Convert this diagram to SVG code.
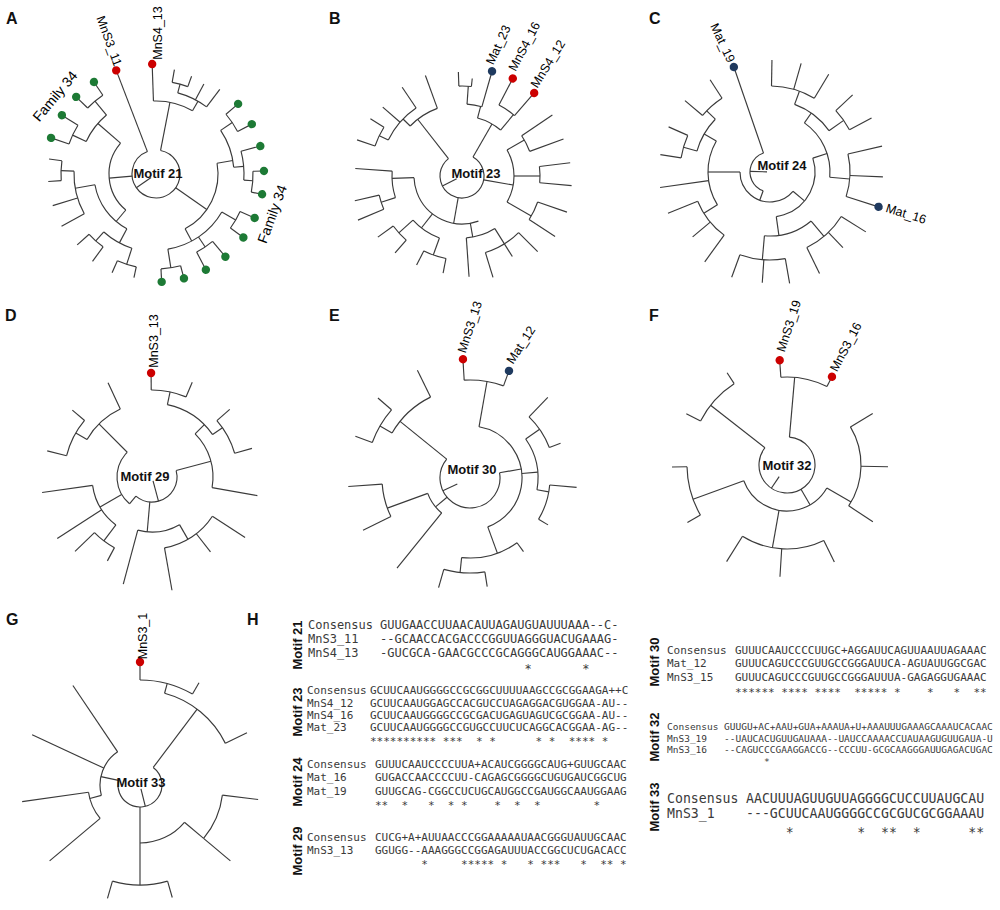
<svg xmlns="http://www.w3.org/2000/svg" width="1000" height="910" viewBox="0 0 1000 910">
<style>
.tr line{stroke:#3a3a3a;stroke-width:1.15}
.a{fill:none;stroke:#3a3a3a;stroke-width:1.15}
.dr{fill:#cc0000}.dg{fill:#1d7a35}.dn{fill:#1f3a5f}
.lbl{font-family:"Liberation Sans",Arial,sans-serif;font-size:12.5px;fill:#000}
.fam{font-family:"Liberation Sans",Arial,sans-serif;font-size:14px;fill:#000}
.mot{font-family:"Liberation Sans",Arial,sans-serif;font-size:13px;font-weight:bold;fill:#111}
.pl{font-family:"Liberation Sans",Arial,sans-serif;font-size:16px;font-weight:bold;fill:#111}
.sq{font-family:"DejaVu Sans Mono",monospace;fill:#3a3a3a;white-space:pre}
.s12{font-size:12px}.s11{font-size:11px}.s95{font-size:9.5px}.s13{font-size:13.2px}
</style>
<rect width="1000" height="910" fill="#fff"/>

<!-- Panel letters -->
<g id="panel-letters">
<text class="pl" x="6" y="24">A</text>
<text class="pl" x="329" y="24">B</text>
<text class="pl" x="649" y="24">C</text>
<text class="pl" x="5" y="321">D</text>
<text class="pl" x="329" y="321">E</text>
<text class="pl" x="649" y="321">F</text>
<text class="pl" x="6" y="625">G</text>
<text class="pl" x="247" y="625">H</text>
</g>

<!-- Panel A -->
<g id="tree-a" class="tr" transform="translate(156,174)">
<line x1="6" x2="24" transform="rotate(145)"/>
<circle class="a" r="24" pathLength="360" stroke-dasharray="328 720" transform="rotate(281)"/>
<line x1="24" x2="111" transform="rotate(249)"/>
<line x1="24" x2="73" transform="rotate(281)"/>
<circle class="a" r="73" pathLength="360" stroke-dasharray="32 720" transform="rotate(268)"/>
<line x1="73" x2="110" transform="rotate(268)"/>
<line x1="73" x2="84" transform="rotate(300)"/>
<circle class="a" r="84" pathLength="360" stroke-dasharray="22 720" transform="rotate(285)"/>
<line x1="84" x2="93" transform="rotate(285)"/>
<circle class="a" r="93" pathLength="360" stroke-dasharray="10 720" transform="rotate(280)"/>
<line x1="93" x2="106" transform="rotate(280)"/>
<line x1="93" x2="104" transform="rotate(290)"/>
<line x1="84" x2="102" transform="rotate(298)"/>
<line x1="84" x2="106" transform="rotate(307)"/>
<line x1="24" x2="47" transform="rotate(175)"/>
<circle class="a" r="47" pathLength="360" stroke-dasharray="91 720" transform="rotate(130)"/>
<line x1="47" x2="77" transform="rotate(221)"/>
<circle class="a" r="77" pathLength="360" stroke-dasharray="25 720" transform="rotate(205)"/>
<line x1="77" x2="92" transform="rotate(205)"/>
<circle class="a" r="92" pathLength="360" stroke-dasharray="13 720" transform="rotate(199)"/>
<line x1="92" x2="111" transform="rotate(199)"/>
<line x1="92" x2="111" transform="rotate(212)"/>
<line x1="77" x2="95" transform="rotate(230)"/>
<circle class="a" r="95" pathLength="360" stroke-dasharray="12 720" transform="rotate(224)"/>
<line x1="95" x2="111" transform="rotate(224)"/>
<line x1="95" x2="111" transform="rotate(236)"/>
<line x1="47" x2="62" transform="rotate(130)"/>
<circle class="a" r="62" pathLength="360" stroke-dasharray="52 720" transform="rotate(118)"/>
<line x1="62" x2="82" transform="rotate(170)"/>
<circle class="a" r="82" pathLength="360" stroke-dasharray="31 720" transform="rotate(151)"/>
<line x1="82" x2="108" transform="rotate(151)"/>
<line x1="82" x2="108" transform="rotate(163)"/>
<line x1="82" x2="95" transform="rotate(182)"/>
<circle class="a" r="95" pathLength="360" stroke-dasharray="12 720" transform="rotate(176)"/>
<line x1="95" x2="108" transform="rotate(176)"/>
<line x1="95" x2="108" transform="rotate(188)"/>
<line x1="62" x2="78" transform="rotate(118)"/>
<circle class="a" r="78" pathLength="360" stroke-dasharray="24 720" transform="rotate(108)"/>
<line x1="78" x2="90" transform="rotate(132)"/>
<circle class="a" r="90" pathLength="360" stroke-dasharray="12 720" transform="rotate(126)"/>
<line x1="90" x2="108" transform="rotate(126)"/>
<line x1="90" x2="106" transform="rotate(138)"/>
<line x1="78" x2="95" transform="rotate(108)"/>
<circle class="a" r="95" pathLength="360" stroke-dasharray="12 720" transform="rotate(102)"/>
<line x1="95" x2="106" transform="rotate(102)"/>
<line x1="95" x2="108" transform="rotate(114)"/>
<line x1="24" x2="62" transform="rotate(35)"/>
<circle class="a" r="62" pathLength="360" stroke-dasharray="72 720" transform="rotate(-10)"/>
<line x1="62" x2="78" transform="rotate(-10)"/>
<circle class="a" r="78" pathLength="360" stroke-dasharray="29 720" transform="rotate(-34)"/>
<line x1="78" x2="92" transform="rotate(-34)"/>
<circle class="a" r="92" pathLength="360" stroke-dasharray="13 720" transform="rotate(-40.5)"/>
<line x1="92" x2="108" transform="rotate(-40.5)"/>
<line x1="92" x2="108" transform="rotate(-27.5)"/>
<line x1="78" x2="88" transform="rotate(-5)"/>
<circle class="a" r="88" pathLength="360" stroke-dasharray="19 720" transform="rotate(-15)"/>
<line x1="88" x2="108" transform="rotate(-15)"/>
<line x1="88" x2="97" transform="rotate(4)"/>
<circle class="a" r="97" pathLength="360" stroke-dasharray="12.4 720" transform="rotate(-1.6)"/>
<line x1="97" x2="108" transform="rotate(-1.6)"/>
<line x1="97" x2="108" transform="rotate(10.8)"/>
<line x1="62" x2="76" transform="rotate(62)"/>
<circle class="a" r="76" pathLength="360" stroke-dasharray="51 720" transform="rotate(30)"/>
<line x1="76" x2="92" transform="rotate(30)"/>
<circle class="a" r="92" pathLength="360" stroke-dasharray="12 720" transform="rotate(24)"/>
<line x1="92" x2="108" transform="rotate(24)"/>
<line x1="92" x2="108" transform="rotate(36)"/>
<line x1="76" x2="88" transform="rotate(56)"/>
<circle class="a" r="88" pathLength="360" stroke-dasharray="12.5 720" transform="rotate(50)"/>
<line x1="88" x2="108" transform="rotate(50)"/>
<line x1="88" x2="108" transform="rotate(62.5)"/>
<line x1="76" x2="95" transform="rotate(81)"/>
<circle class="a" r="95" pathLength="360" stroke-dasharray="12 720" transform="rotate(75)"/>
<line x1="95" x2="108" transform="rotate(75)"/>
<line x1="95" x2="108" transform="rotate(87)"/>
<circle class="dr" r="4.2" transform="rotate(249) translate(111)"/>
<circle class="dr" r="4.2" transform="rotate(268) translate(110)"/>
<circle class="dg" r="4.2" transform="rotate(199) translate(111)"/>
<circle class="dg" r="4.2" transform="rotate(212) translate(111)"/>
<circle class="dg" r="4.2" transform="rotate(224) translate(111)"/>
<circle class="dg" r="4.2" transform="rotate(236) translate(111)"/>
<circle class="dg" r="4.2" transform="rotate(-40.5) translate(108)"/>
<circle class="dg" r="4.2" transform="rotate(-27.5) translate(108)"/>
<circle class="dg" r="4.2" transform="rotate(-15) translate(108)"/>
<circle class="dg" r="4.2" transform="rotate(-1.6) translate(108)"/>
<circle class="dg" r="4.2" transform="rotate(10.8) translate(108)"/>
<circle class="dg" r="4.2" transform="rotate(24) translate(108)"/>
<circle class="dg" r="4.2" transform="rotate(36) translate(108)"/>
<circle class="dg" r="4.2" transform="rotate(50) translate(108)"/>
<circle class="dg" r="4.2" transform="rotate(62.5) translate(108)"/>
<circle class="dg" r="4.2" transform="rotate(75) translate(108)"/>
<circle class="dg" r="4.2" transform="rotate(87) translate(108)"/>
</g>
<g id="labels-a">
<text class="mot" x="158" y="173" text-anchor="middle" dominant-baseline="central">Motif 21</text>
<text class="lbl" text-anchor="middle" dominant-baseline="central" transform="translate(109,41) rotate(70)">MnS3_11</text>
<text class="lbl" text-anchor="middle" dominant-baseline="central" transform="translate(157.5,33) rotate(-90)">MnS4_13</text>
<text class="fam" text-anchor="middle" dominant-baseline="central" transform="translate(55,96) rotate(-50)">Family 34</text>
<text class="fam" text-anchor="middle" dominant-baseline="central" transform="translate(272,214) rotate(-70)">Family 34</text>
</g>

<!-- Panel B -->
<g id="tree-b" class="tr" transform="translate(462,176)">
<line x1="6" x2="22" transform="rotate(153)"/>
<circle class="a" r="22" pathLength="360" stroke-dasharray="292 720" transform="rotate(300)"/>
<line x1="22" x2="72" transform="rotate(232)"/>
<circle class="a" r="72" pathLength="360" stroke-dasharray="26 720" transform="rotate(224)"/>
<line x1="72" x2="107" transform="rotate(250)"/>
<line x1="72" x2="82" transform="rotate(224)"/>
<circle class="a" r="82" pathLength="360" stroke-dasharray="30 720" transform="rotate(206)"/>
<line x1="82" x2="107" transform="rotate(236)"/>
<line x1="82" x2="105" transform="rotate(221)"/>
<line x1="82" x2="92" transform="rotate(206)"/>
<circle class="a" r="92" pathLength="360" stroke-dasharray="13 720" transform="rotate(199)"/>
<line x1="92" x2="111" transform="rotate(199)"/>
<line x1="92" x2="108" transform="rotate(212)"/>
<line x1="22" x2="48" transform="rotate(100)"/>
<circle class="a" r="48" pathLength="360" stroke-dasharray="108 720" transform="rotate(70)"/>
<line x1="48" x2="70" transform="rotate(178)"/>
<circle class="a" r="70" pathLength="360" stroke-dasharray="22 720" transform="rotate(162)"/>
<line x1="70" x2="107" transform="rotate(184)"/>
<line x1="70" x2="85" transform="rotate(162)"/>
<circle class="a" r="85" pathLength="360" stroke-dasharray="10 720" transform="rotate(157)"/>
<line x1="85" x2="113" transform="rotate(157)"/>
<line x1="85" x2="110" transform="rotate(167)"/>
<line x1="48" x2="66" transform="rotate(128)"/>
<circle class="a" r="66" pathLength="360" stroke-dasharray="28 720" transform="rotate(110)"/>
<line x1="66" x2="85" transform="rotate(138)"/>
<circle class="a" r="85" pathLength="360" stroke-dasharray="13 720" transform="rotate(131)"/>
<line x1="85" x2="102" transform="rotate(131)"/>
<line x1="85" x2="104" transform="rotate(144)"/>
<line x1="66" x2="84" transform="rotate(110)"/>
<circle class="a" r="84" pathLength="360" stroke-dasharray="16 720" transform="rotate(101)"/>
<line x1="84" x2="99" transform="rotate(101)"/>
<line x1="84" x2="100" transform="rotate(117)"/>
<line x1="48" x2="62" transform="rotate(80)"/>
<circle class="a" r="62" pathLength="360" stroke-dasharray="28 720" transform="rotate(58)"/>
<line x1="62" x2="101" transform="rotate(86)"/>
<line x1="62" x2="80" transform="rotate(58)"/>
<circle class="a" r="80" pathLength="360" stroke-dasharray="28 720" transform="rotate(45)"/>
<line x1="80" x2="106" transform="rotate(73)"/>
<line x1="80" x2="95" transform="rotate(58)"/>
<line x1="80" x2="107" transform="rotate(45)"/>
<line x1="22" x2="52" transform="rotate(10)"/>
<circle class="a" r="52" pathLength="360" stroke-dasharray="60 720" transform="rotate(-30)"/>
<line x1="52" x2="80" transform="rotate(30)"/>
<circle class="a" r="80" pathLength="360" stroke-dasharray="14 720" transform="rotate(19)"/>
<line x1="80" x2="111" transform="rotate(19)"/>
<line x1="80" x2="111" transform="rotate(33)"/>
<line x1="52" x2="78" transform="rotate(0)"/>
<circle class="a" r="78" pathLength="360" stroke-dasharray="12 720" transform="rotate(-7)"/>
<line x1="78" x2="109" transform="rotate(-7)"/>
<line x1="78" x2="110" transform="rotate(5)"/>
<line x1="52" x2="72" transform="rotate(-30)"/>
<circle class="a" r="72" pathLength="360" stroke-dasharray="14 720" transform="rotate(-34)"/>
<line x1="72" x2="109" transform="rotate(-34)"/>
<line x1="72" x2="108" transform="rotate(-20)"/>
<line x1="22" x2="60" transform="rotate(300)"/>
<circle class="a" r="60" pathLength="360" stroke-dasharray="25 720" transform="rotate(285)"/>
<line x1="60" x2="72" transform="rotate(285)"/>
<circle class="a" r="72" pathLength="360" stroke-dasharray="12 720" transform="rotate(274)"/>
<line x1="72" x2="109" transform="rotate(286)"/>
<line x1="72" x2="90" transform="rotate(274)"/>
<circle class="a" r="90" pathLength="360" stroke-dasharray="8 720" transform="rotate(268)"/>
<line x1="90" x2="104" transform="rotate(268)"/>
<line x1="90" x2="98" transform="rotate(276)"/>
<line x1="60" x2="80" transform="rotate(310)"/>
<circle class="a" r="80" pathLength="360" stroke-dasharray="13.5 720" transform="rotate(297.5)"/>
<line x1="80" x2="110" transform="rotate(297.5)"/>
<line x1="80" x2="110" transform="rotate(311)"/>
<circle class="dn" r="4.2" transform="rotate(286) translate(109)"/>
<circle class="dr" r="4.2" transform="rotate(297.5) translate(110)"/>
<circle class="dr" r="4.2" transform="rotate(311) translate(110)"/>
</g>
<g id="labels-b">
<text class="mot" x="476" y="173" text-anchor="middle" dominant-baseline="central">Motif 23</text>
<text class="lbl" text-anchor="middle" dominant-baseline="central" transform="translate(498.5,45) rotate(-65)">Mat_23</text>
<text class="lbl" text-anchor="middle" dominant-baseline="central" transform="translate(524.5,46.5) rotate(-62)">MnS4_16</text>
<text class="lbl" text-anchor="middle" dominant-baseline="central" transform="translate(548,64) rotate(-58)">MnS4_12</text>
</g>

<!-- Panel C -->
<g id="tree-c" class="tr" transform="translate(770,172)">
<line x1="3" x2="20" transform="rotate(182)"/>
<circle class="a" r="20" pathLength="360" stroke-dasharray="141 720" transform="rotate(110)"/>
<line x1="20" x2="111" transform="rotate(251)"/>
<line x1="20" x2="30" transform="rotate(110)"/>
<circle class="a" r="30" pathLength="360" stroke-dasharray="140 720" transform="rotate(40)"/>
<line x1="30" x2="62" transform="rotate(180)"/>
<circle class="a" r="62" pathLength="360" stroke-dasharray="62 720" transform="rotate(148)"/>
<line x1="62" x2="76" transform="rotate(210)"/>
<circle class="a" r="76" pathLength="360" stroke-dasharray="28 720" transform="rotate(196)"/>
<line x1="76" x2="88" transform="rotate(224)"/>
<circle class="a" r="88" pathLength="360" stroke-dasharray="17 720" transform="rotate(220)"/>
<line x1="88" x2="111" transform="rotate(220)"/>
<line x1="88" x2="110" transform="rotate(237)"/>
<line x1="76" x2="90" transform="rotate(196)"/>
<circle class="a" r="90" pathLength="360" stroke-dasharray="15 720" transform="rotate(189)"/>
<line x1="90" x2="111" transform="rotate(189)"/>
<line x1="90" x2="111" transform="rotate(204)"/>
<line x1="62" x2="111" transform="rotate(172)"/>
<line x1="62" x2="78" transform="rotate(148)"/>
<circle class="a" r="78" pathLength="360" stroke-dasharray="32 720" transform="rotate(126)"/>
<line x1="78" x2="110" transform="rotate(158)"/>
<line x1="78" x2="101" transform="rotate(140)"/>
<line x1="78" x2="111" transform="rotate(126)"/>
<line x1="30" x2="45" transform="rotate(40)"/>
<circle class="a" r="45" pathLength="360" stroke-dasharray="100 720" transform="rotate(-18)"/>
<line x1="45" x2="60" transform="rotate(-18)"/>
<circle class="a" r="60" pathLength="360" stroke-dasharray="60 720" transform="rotate(-55)"/>
<line x1="60" x2="72" transform="rotate(-55)"/>
<circle class="a" r="72" pathLength="360" stroke-dasharray="35 720" transform="rotate(-70)"/>
<line x1="72" x2="86" transform="rotate(-70)"/>
<circle class="a" r="86" pathLength="360" stroke-dasharray="30 720" transform="rotate(-89)"/>
<line x1="86" x2="112" transform="rotate(-89)"/>
<line x1="86" x2="113" transform="rotate(-74)"/>
<line x1="86" x2="114" transform="rotate(-59)"/>
<line x1="72" x2="90" transform="rotate(-35)"/>
<circle class="a" r="90" pathLength="360" stroke-dasharray="15 720" transform="rotate(-43)"/>
<line x1="90" x2="113" transform="rotate(-43)"/>
<line x1="90" x2="115" transform="rotate(-28)"/>
<line x1="60" x2="80" transform="rotate(5)"/>
<circle class="a" r="80" pathLength="360" stroke-dasharray="31 720" transform="rotate(-13)"/>
<line x1="80" x2="115" transform="rotate(-13)"/>
<line x1="80" x2="113" transform="rotate(2.5)"/>
<line x1="80" x2="114" transform="rotate(17.8)"/>
<line x1="45" x2="64" transform="rotate(82)"/>
<circle class="a" r="64" pathLength="360" stroke-dasharray="45 720" transform="rotate(50)"/>
<line x1="64" x2="84" transform="rotate(50)"/>
<circle class="a" r="84" pathLength="360" stroke-dasharray="32 720" transform="rotate(32)"/>
<line x1="84" x2="113" transform="rotate(32)"/>
<line x1="84" x2="105" transform="rotate(46)"/>
<line x1="84" x2="113" transform="rotate(64)"/>
<line x1="64" x2="88" transform="rotate(95)"/>
<circle class="a" r="88" pathLength="360" stroke-dasharray="30 720" transform="rotate(80)"/>
<line x1="88" x2="113" transform="rotate(80)"/>
<line x1="88" x2="111" transform="rotate(94)"/>
<line x1="88" x2="112" transform="rotate(110)"/>
<circle class="dn" r="4.2" transform="rotate(251) translate(111)"/>
<circle class="dn" r="4.2" transform="rotate(17.8) translate(114)"/>
</g>
<g id="labels-c">
<text class="mot" x="782" y="165" text-anchor="middle" dominant-baseline="central">Motif 24</text>
<text class="lbl" text-anchor="middle" dominant-baseline="central" transform="translate(722.5,43) rotate(65)">Mat_19</text>
<text class="lbl" text-anchor="middle" dominant-baseline="central" transform="translate(906,214) rotate(17)">Mat_16</text>
</g>

<!-- Panel D -->
<g id="tree-d" class="tr" transform="translate(152,477)">
<line x1="4" x2="25" transform="rotate(75)"/>
<circle class="a" r="25" pathLength="360" stroke-dasharray="145 720" transform="rotate(-15)"/>
<line x1="25" x2="61" transform="rotate(-15)"/>
<circle class="a" r="61" pathLength="360" stroke-dasharray="55 720" transform="rotate(-45)"/>
<line x1="61" x2="74" transform="rotate(-45)"/>
<circle class="a" r="74" pathLength="360" stroke-dasharray="43 720" transform="rotate(-78)"/>
<line x1="74" x2="87" transform="rotate(-78)"/>
<circle class="a" r="87" pathLength="360" stroke-dasharray="23.5 720" transform="rotate(-90.5)"/>
<line x1="87" x2="104" transform="rotate(-90.5)"/>
<line x1="87" x2="103" transform="rotate(-67)"/>
<line x1="74" x2="86" transform="rotate(-35)"/>
<circle class="a" r="86" pathLength="360" stroke-dasharray="25 720" transform="rotate(-41)"/>
<line x1="86" x2="103" transform="rotate(-41)"/>
<line x1="86" x2="104" transform="rotate(-16)"/>
<line x1="61" x2="107" transform="rotate(10)"/>
<line x1="25" x2="35" transform="rotate(130)"/>
<circle class="a" r="35" pathLength="360" stroke-dasharray="95 720" transform="rotate(130)"/>
<line x1="35" x2="75" transform="rotate(225)"/>
<circle class="a" r="75" pathLength="360" stroke-dasharray="35 720" transform="rotate(210)"/>
<line x1="75" x2="104" transform="rotate(245)"/>
<line x1="75" x2="88" transform="rotate(210)"/>
<circle class="a" r="88" pathLength="360" stroke-dasharray="26 720" transform="rotate(194)"/>
<line x1="88" x2="108" transform="rotate(194)"/>
<line x1="88" x2="104" transform="rotate(220)"/>
<line x1="35" x2="60" transform="rotate(150)"/>
<circle class="a" r="60" pathLength="360" stroke-dasharray="45 720" transform="rotate(127)"/>
<line x1="60" x2="111" transform="rotate(172)"/>
<line x1="60" x2="113" transform="rotate(147)"/>
<line x1="60" x2="80" transform="rotate(127)"/>
<circle class="a" r="80" pathLength="360" stroke-dasharray="18 720" transform="rotate(118)"/>
<line x1="80" x2="95" transform="rotate(118)"/>
<line x1="80" x2="107" transform="rotate(136)"/>
<line x1="25" x2="55" transform="rotate(95)"/>
<circle class="a" r="55" pathLength="360" stroke-dasharray="45 720" transform="rotate(60)"/>
<line x1="55" x2="111" transform="rotate(105)"/>
<line x1="55" x2="72" transform="rotate(60)"/>
<circle class="a" r="72" pathLength="360" stroke-dasharray="47 720" transform="rotate(33)"/>
<line x1="72" x2="115" transform="rotate(80)"/>
<line x1="72" x2="95" transform="rotate(52)"/>
<line x1="72" x2="111" transform="rotate(33)"/>
<circle class="dr" r="4.2" transform="rotate(-90.5) translate(104)"/>
</g>
<g id="labels-d">
<text class="mot" x="145" y="476" text-anchor="middle" dominant-baseline="central">Motif 29</text>
<text class="lbl" text-anchor="middle" dominant-baseline="central" transform="translate(154,341) rotate(-90)">MnS3_13</text>
</g>

<!-- Panel E -->
<g id="tree-e" class="tr" transform="translate(470,478)">
<line x1="14" x2="30" transform="rotate(155)"/>
<circle class="a" r="30" pathLength="360" stroke-dasharray="229 720" transform="rotate(-10)"/>
<line x1="30" x2="90" transform="rotate(219)"/>
<circle class="a" r="90" pathLength="360" stroke-dasharray="34 720" transform="rotate(210)"/>
<line x1="90" x2="120" transform="rotate(244)"/>
<line x1="90" x2="104" transform="rotate(210)"/>
<circle class="a" r="104" pathLength="360" stroke-dasharray="21 720" transform="rotate(200)"/>
<line x1="104" x2="122" transform="rotate(200)"/>
<line x1="104" x2="122" transform="rotate(221)"/>
<line x1="30" x2="45" transform="rotate(140)"/>
<circle class="a" r="45" pathLength="360" stroke-dasharray="31 720" transform="rotate(129)"/>
<line x1="45" x2="88" transform="rotate(160)"/>
<circle class="a" r="88" pathLength="360" stroke-dasharray="22 720" transform="rotate(154)"/>
<line x1="88" x2="119" transform="rotate(154)"/>
<line x1="88" x2="122" transform="rotate(176)"/>
<line x1="45" x2="116" transform="rotate(129)"/>
<line x1="30" x2="52" transform="rotate(-10)"/>
<circle class="a" r="52" pathLength="360" stroke-dasharray="150 720" transform="rotate(-80)"/>
<line x1="52" x2="98" transform="rotate(-80)"/>
<circle class="a" r="98" pathLength="360" stroke-dasharray="23.4 720" transform="rotate(-93.4)"/>
<line x1="98" x2="119" transform="rotate(-93.4)"/>
<line x1="98" x2="114" transform="rotate(-70)"/>
<line x1="52" x2="68" transform="rotate(-5)"/>
<circle class="a" r="68" pathLength="360" stroke-dasharray="45 720" transform="rotate(-35)"/>
<line x1="68" x2="85" transform="rotate(-35)"/>
<circle class="a" r="85" pathLength="360" stroke-dasharray="25 720" transform="rotate(-46)"/>
<line x1="85" x2="112" transform="rotate(-46)"/>
<line x1="85" x2="97" transform="rotate(-21)"/>
<line x1="68" x2="80" transform="rotate(10)"/>
<circle class="a" r="80" pathLength="360" stroke-dasharray="26 720" transform="rotate(5)"/>
<line x1="80" x2="107" transform="rotate(5)"/>
<line x1="80" x2="91" transform="rotate(31)"/>
<line x1="52" x2="80" transform="rotate(70)"/>
<circle class="a" r="80" pathLength="360" stroke-dasharray="42 720" transform="rotate(54)"/>
<line x1="80" x2="91" transform="rotate(54)"/>
<line x1="80" x2="95" transform="rotate(96)"/>
<circle class="a" r="95" pathLength="360" stroke-dasharray="25 720" transform="rotate(81)"/>
<line x1="95" x2="110" transform="rotate(81)"/>
<line x1="95" x2="114" transform="rotate(106)"/>
<circle class="dr" r="4.2" transform="rotate(-93.4) translate(119)"/>
<circle class="dn" r="4.2" transform="rotate(-70) translate(114)"/>
</g>
<g id="labels-e">
<text class="mot" x="472" y="469" text-anchor="middle" dominant-baseline="central">Motif 30</text>
<text class="lbl" text-anchor="middle" dominant-baseline="central" transform="translate(470,327) rotate(-72)">MnS3_13</text>
<text class="lbl" text-anchor="middle" dominant-baseline="central" transform="translate(521,345) rotate(-57)">Mat_12</text>
</g>

<!-- Panel F -->
<g id="tree-f" class="tr" transform="translate(787,465)">
<line x1="14" x2="28" transform="rotate(124)"/>
<circle class="a" r="28" pathLength="360" stroke-dasharray="303 720" transform="rotate(-85)"/>
<line x1="28" x2="88" transform="rotate(-85)"/>
<circle class="a" r="88" pathLength="360" stroke-dasharray="31 720" transform="rotate(-94)"/>
<line x1="88" x2="105" transform="rotate(-94)"/>
<line x1="88" x2="99" transform="rotate(-63)"/>
<line x1="28" x2="97" transform="rotate(218)"/>
<circle class="a" r="97" pathLength="360" stroke-dasharray="30 720" transform="rotate(207)"/>
<line x1="97" x2="110" transform="rotate(237)"/>
<line x1="97" x2="113" transform="rotate(207)"/>
<line x1="28" x2="46" transform="rotate(60)"/>
<circle class="a" r="46" pathLength="360" stroke-dasharray="130 720" transform="rotate(30)"/>
<line x1="46" x2="100" transform="rotate(160)"/>
<circle class="a" r="100" pathLength="360" stroke-dasharray="29 720" transform="rotate(150)"/>
<line x1="100" x2="115" transform="rotate(150)"/>
<line x1="100" x2="115" transform="rotate(179)"/>
<line x1="46" x2="84" transform="rotate(100)"/>
<circle class="a" r="84" pathLength="360" stroke-dasharray="58 720" transform="rotate(64)"/>
<line x1="84" x2="114" transform="rotate(122)"/>
<line x1="84" x2="112" transform="rotate(93.6)"/>
<line x1="84" x2="108" transform="rotate(64)"/>
<line x1="46" x2="74" transform="rotate(30)"/>
<circle class="a" r="74" pathLength="360" stroke-dasharray="64.5 720" transform="rotate(-31)"/>
<line x1="74" x2="100" transform="rotate(-31)"/>
<line x1="74" x2="101" transform="rotate(1)"/>
<line x1="74" x2="103" transform="rotate(33.5)"/>
<circle class="dr" r="4.2" transform="rotate(-94) translate(105)"/>
<circle class="dr" r="4.2" transform="rotate(-63) translate(99)"/>
</g>
<g id="labels-f">
<text class="mot" x="787" y="465" text-anchor="middle" dominant-baseline="central">Motif 32</text>
<text class="lbl" text-anchor="middle" dominant-baseline="central" transform="translate(789,326) rotate(-72)">MnS3_19</text>
<text class="lbl" text-anchor="middle" dominant-baseline="central" transform="translate(846,347) rotate(-62)">MnS3_16</text>
</g>

<!-- Panel G -->
<g id="tree-g" class="tr" transform="translate(140,785)">
<line x1="4" x2="22" transform="rotate(76)"/>
<circle class="a" r="22" pathLength="360" stroke-dasharray="245 720" transform="rotate(-53)"/>
<line x1="22" x2="95" transform="rotate(-53)"/>
<circle class="a" r="95" pathLength="360" stroke-dasharray="49 720" transform="rotate(-75)"/>
<line x1="95" x2="105" transform="rotate(-75)"/>
<circle class="a" r="105" pathLength="360" stroke-dasharray="30 720" transform="rotate(-90)"/>
<line x1="105" x2="123" transform="rotate(-90)"/>
<line x1="105" x2="118" transform="rotate(-60)"/>
<line x1="95" x2="119" transform="rotate(-26)"/>
<line x1="22" x2="40" transform="rotate(192)"/>
<circle class="a" r="40" pathLength="360" stroke-dasharray="71 720" transform="rotate(165)"/>
<line x1="40" x2="120" transform="rotate(236)"/>
<line x1="40" x2="119" transform="rotate(205)"/>
<line x1="40" x2="52" transform="rotate(165)"/>
<circle class="a" r="52" pathLength="360" stroke-dasharray="32 720" transform="rotate(140)"/>
<line x1="52" x2="119" transform="rotate(172)"/>
<line x1="52" x2="118" transform="rotate(140)"/>
<line x1="22" x2="58" transform="rotate(90)"/>
<circle class="a" r="58" pathLength="360" stroke-dasharray="50 720" transform="rotate(40)"/>
<line x1="58" x2="83" transform="rotate(40)"/>
<circle class="a" r="83" pathLength="360" stroke-dasharray="33 720" transform="rotate(7)"/>
<line x1="83" x2="119" transform="rotate(7)"/>
<line x1="83" x2="118" transform="rotate(40)"/>
<line x1="58" x2="100" transform="rotate(90)"/>
<circle class="a" r="100" pathLength="360" stroke-dasharray="32 720" transform="rotate(74)"/>
<line x1="100" x2="117" transform="rotate(74)"/>
<line x1="100" x2="118" transform="rotate(106)"/>
<circle class="dr" r="4.2" transform="rotate(-90) translate(123)"/>
</g>
<g id="labels-g">
<text class="mot" x="141" y="782" text-anchor="middle" dominant-baseline="central">Motif 33</text>
<text class="lbl" text-anchor="middle" dominant-baseline="central" transform="translate(143,636) rotate(-90)">MnS3_1</text>
</g>

<!-- Panel H: alignments -->
<g id="motif-labels-h">
<text class="mot" text-anchor="middle" dominant-baseline="central" transform="translate(297,645) rotate(-90)">Motif 21</text>
<text class="mot" text-anchor="middle" dominant-baseline="central" transform="translate(297,712) rotate(-90)">Motif 23</text>
<text class="mot" text-anchor="middle" dominant-baseline="central" transform="translate(297,782) rotate(-90)">Motif 24</text>
<text class="mot" text-anchor="middle" dominant-baseline="central" transform="translate(297,851) rotate(-90)">Motif 29</text>
<text class="mot" text-anchor="middle" dominant-baseline="central" transform="translate(654,662) rotate(-90)">Motif 30</text>
<text class="mot" text-anchor="middle" dominant-baseline="central" transform="translate(654,737) rotate(-90)">Motif 32</text>
<text class="mot" text-anchor="middle" dominant-baseline="central" transform="translate(654,807) rotate(-90)">Motif 33</text>
</g>
<g id="aln-21" class="sq s12">
<text x="308" y="629">Consensus</text><text x="380" y="629">GUUGAACCUUAACAUUAGAUGUAUUUAAA--C-</text>
<text x="308" y="643">MnS3_11</text><text x="380" y="643">--GCAACCACGACCCGGUUAGGGUACUGAAAG-</text>
<text x="308" y="657">MnS4_13</text><text x="380" y="657">-GUCGCA-GAACGCCCGCAGGGCAUGGAAAC--</text>
<text x="380" y="673" xml:space="preserve">                    *       *</text>
</g>
<g id="aln-23" class="sq s11">
<text x="307" y="694">Consensus</text><text x="370" y="694">GCUUCAAUGGGGCCGCGGCUUUUAAGCCGCGGAAGA++C</text>
<text x="307" y="707">MnS4_12</text><text x="370" y="707">GCUUCAAUGGAGCCACGUCCUAGAGGACGUGGAA-AU--</text>
<text x="307" y="719">MnS4_16</text><text x="370" y="719">GCUUCAAUGGGGCCGCGACUGAGUAGUCGCGGAA-AU--</text>
<text x="307" y="731">Mat_23</text><text x="370" y="731">GCUUCAAUGGGGCCGUGCCUUCUCAGGCACGGAA-AG--</text>
<text x="370" y="745" xml:space="preserve">********** ***  * *      * *  **** *</text>
</g>
<g id="aln-24" class="sq s11">
<text x="307" y="768">Consensus</text><text x="375" y="768">GUUUCAAUCCCCUUA+ACAUCGGGGCAUG+GUUGCAAC</text>
<text x="307" y="781">Mat_16</text><text x="375" y="781">GUGACCAACCCCUU-CAGAGCGGGGCUGUGAUCGGCUG</text>
<text x="307" y="795">Mat_19</text><text x="375" y="795">GUUGCAG-CGGCCUCUGCAUGGCCGAUGGCAAUGGAAG</text>
<text x="375" y="809" xml:space="preserve">**  *   *  * *    *  *  *        *</text>
</g>
<g id="aln-29" class="sq s11">
<text x="307" y="841">Consensus</text><text x="375" y="841">CUCG+A+AUUAACCCGGAAAAAUAACGGGUAUUGCAAC</text>
<text x="307" y="854">MnS3_13</text><text x="375" y="854">GGUGG--AAAGGGCCGGAGAUUUACCGGCUCUGACACC</text>
<text x="375" y="868" xml:space="preserve">       *     ***** *   * ***   *  ** *</text>
</g>
<g id="aln-30" class="sq s11">
<text x="667" y="654">Consensus</text><text x="735" y="654">GUUUCAAUCCCCUUGC+AGGAUUCAGUUAAUUAGAAAC</text>
<text x="667" y="667">Mat_12</text><text x="735" y="667">GUUUCAGUCCCGUUGCCGGGAUUCA-AGUAUUGGCGAC</text>
<text x="667" y="681">MnS3_15</text><text x="735" y="681">GUUUCAGUCCCGUUGCCGGGAUUUA-GAGAGGUGAAAC</text>
<text x="735" y="696" xml:space="preserve">****** **** ****  ***** *    *   *  **</text>
</g>
<g id="aln-32" class="sq s95">
<text x="667" y="730">Consensus</text><text x="724" y="730">GUUGU+AC+AAU+GUA+AAAUA+U+AAAUUUGAAAGCAAAUCACAAC</text>
<text x="667" y="742">MnS3_19</text><text x="724" y="742">--UAUCACUGUUGAUAAA--UAUCCAAAACCUAUAAGUGUUGAUA-U</text>
<text x="667" y="753">MnS3_16</text><text x="724" y="753">--CAGUCCCGAAGGACCG--CCCUU-GCGCAAGGGAUUGAGACUGAC</text>
<text x="724" y="765" xml:space="preserve">       *</text>
</g>
<g id="aln-33" class="sq s13">
<text x="667" y="803">Consensus</text><text x="746" y="803">AACUUUAGUUGUUAGGGGCUCCUUAUGCAU</text>
<text x="667" y="818">MnS3_1</text><text x="746" y="818">---GCUUCAAUGGGGCCGCGUCGCGGAAAU</text>
<text x="746" y="837" xml:space="preserve">     *        *  **  *      **</text>
</g>
</svg>
